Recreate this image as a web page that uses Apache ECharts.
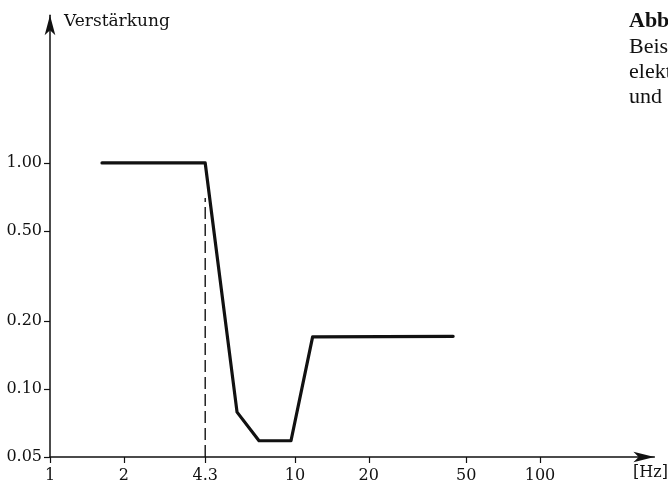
<!DOCTYPE html>
<html>
<head>
<meta charset="utf-8">
<script src="https://cdn.jsdelivr.net/npm/echarts@6/dist/echarts.min.js"></script>
<style>
  html, body { margin: 0; padding: 0; background: #fff; }
  #chart { width: 668px; height: 487px; }
</style>
</head>
<body>
<div id="chart"></div>
<script>
// Frequency response (gain vs. frequency), log-log
const freqTicks = [1, 2, 4.3, 10, 20, 50, 100];
const gainTicks = [0.05, 0.10, 0.20, 0.50, 1.00];

const responseFreq = [1.63, 4.3, 5.8, 7.13, 9.63, 11.8, 44.2];
const responseGain = [1.0, 1.0, 0.079, 0.059, 0.059, 0.170, 0.171];

// vertical marker at the corner frequency
const markerFreq = [4.3, 4.3];
const markerGain = [0.05, 0.70];

const captionLines = ['Beispiel', 'elektrischer', 'und'];

const serif = '"DejaVu Serif", serif';
const ink = '#111';

const chart = echarts.init(document.getElementById('chart'));

const zip = (xs, ys) => xs.map((x, i) => [x, ys[i]]);

chart.setOption({
  backgroundColor: '#fff',
  animation: false,
  grid: {
    left: 50, right: 13.6, top: 15.3, bottom: 30,
    outerBoundsMode: 'none'
  },
  xAxis: {
    type: 'log',
    logBase: 10,
    min: 1,
    max: 293,
    axisLine: {
      show: true,
      lineStyle: { color: ink, width: 1.5 },
      symbol: ['none', 'arrow'],
      symbolSize: [8, 21]
    },
    axisTick: {
      show: true, inside: false, length: 6,
      customValues: freqTicks,
      lineStyle: { color: ink, width: 1.2 }
    },
    minorTick: { show: false },
    axisLabel: {
      customValues: freqTicks,
      margin: 11,
      color: ink,
      fontFamily: serif,
      fontSize: 16,
      formatter: v => String(+v.toFixed(1))
    },
    splitLine: { show: false }
  },
  yAxis: {
    type: 'log',
    logBase: 10,
    min: 0.05,
    max: 4.5,
    axisLine: {
      show: true,
      lineStyle: { color: ink, width: 1.5 },
      symbol: ['none', 'arrow'],
      symbolSize: [8, 20]
    },
    axisTick: {
      show: true, inside: false, length: 6,
      customValues: gainTicks,
      lineStyle: { color: ink, width: 1.2 }
    },
    minorTick: { show: false },
    axisLabel: {
      customValues: gainTicks,
      margin: 8,
      color: ink,
      fontFamily: serif,
      fontSize: 16,
      formatter: v => v.toFixed(2)
    },
    splitLine: { show: false }
  },
  series: [
    {
      type: 'line',
      data: zip(responseFreq, responseGain),
      symbol: 'none',
      lineStyle: { color: ink, width: 3.2, join: 'round', cap: 'round' },
      z: 3
    },
    {
      type: 'line',
      data: zip(markerFreq, markerGain),
      symbol: 'none',
      lineStyle: { color: ink, width: 1.4, type: [12, 5] },
      z: 2
    }
  ],
  graphic: [
    {
      type: 'text', left: 64, top: 13,
      style: { text: 'Verstärkung', font: '17px ' + serif, fill: ink }
    },
    {
      type: 'text', left: 633, top: 465,
      style: { text: '[Hz]', font: '16px ' + serif, fill: ink }
    },
    {
      type: 'text', left: 629, top: 10,
      style: { text: 'Abb.', font: 'bold 22px "Liberation Serif", serif', fill: ink }
    }
  ].concat(captionLines.map((t, i) => ({
    type: 'text', left: 629, top: 36 + i * 25,
    style: { text: t, font: '22px "Liberation Serif", serif', fill: ink }
  })))
});
</script>
</body>
</html>
